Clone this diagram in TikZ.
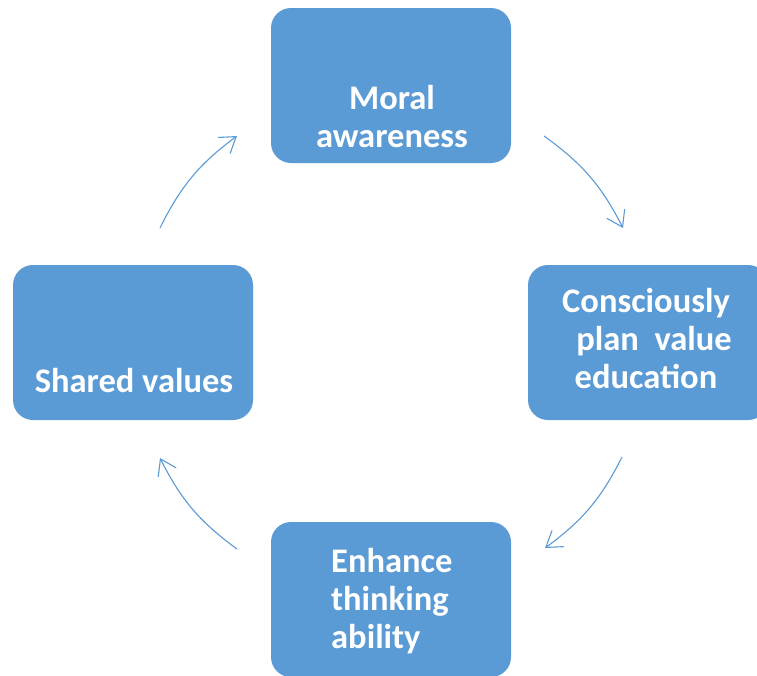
\documentclass[tikz,border=0pt]{standalone}
\usepackage{fontspec}
\setmainfont{Carlito}
\usetikzlibrary{arrows.meta}
\definecolor{boxblue}{HTML}{5B9BD5}
\tikzset{
  box/.style={fill=boxblue, draw=none, rounded corners=20pt, minimum width=240pt, minimum height=155pt, inner sep=0pt},
  txt/.style={text=white, font=\fontsize{34.5}{38}\selectfont\bfseries, inner sep=0pt},
  cyc/.style={draw=boxblue, line width=1.1pt, -{Straight Barb[length=15pt,width=20pt]}}
}
\begin{document}
\begin{tikzpicture}[x=1pt,y=-1pt]
\clip (0,0) rectangle (757,675);
\fill[white] (0,0) rectangle (757,675);
\node[box] (top) at (391,85.5) {};
\node[box] (right) at (648,342.5) {};
\node[box] (left) at (133,342.5) {};
\node[box] (bottom) at (391,599.5) {};
\node[txt, align=center, anchor=base] (toptxt) at (392,147) {Moral\\awareness};
\node[txt, align=center, anchor=base] (righttxt) at (646,388) {Consciously\\\hspace*{16pt}plan\ \ value\\education};
\node[txt, align=left, anchor=base west] (bottomtxt) at (331,648) {Enhance\\thinking\\ability};
\node[txt, anchor=base] (lefttxt) at (134,392) {Shared values};
\coordinate (a1s) at (544,136);
\coordinate (a1e) at (623,228);
\coordinate (a2s) at (622,457);
\coordinate (a2e) at (545,548);
\coordinate (a3s) at (237,549);
\coordinate (a3e) at (160,458);
\coordinate (a4s) at (160,228);
\coordinate (a4e) at (237,136);
\draw[cyc] (a1s) to[bend left=13.6] (a1e);
\draw[cyc] (a2s) to[bend left=13.6] (a2e);
\draw[cyc] (a3s) to[bend left=13.6] (a3e);
\draw[cyc] (a4s) to[bend left=13.6] (a4e);
\end{tikzpicture}
\end{document}
